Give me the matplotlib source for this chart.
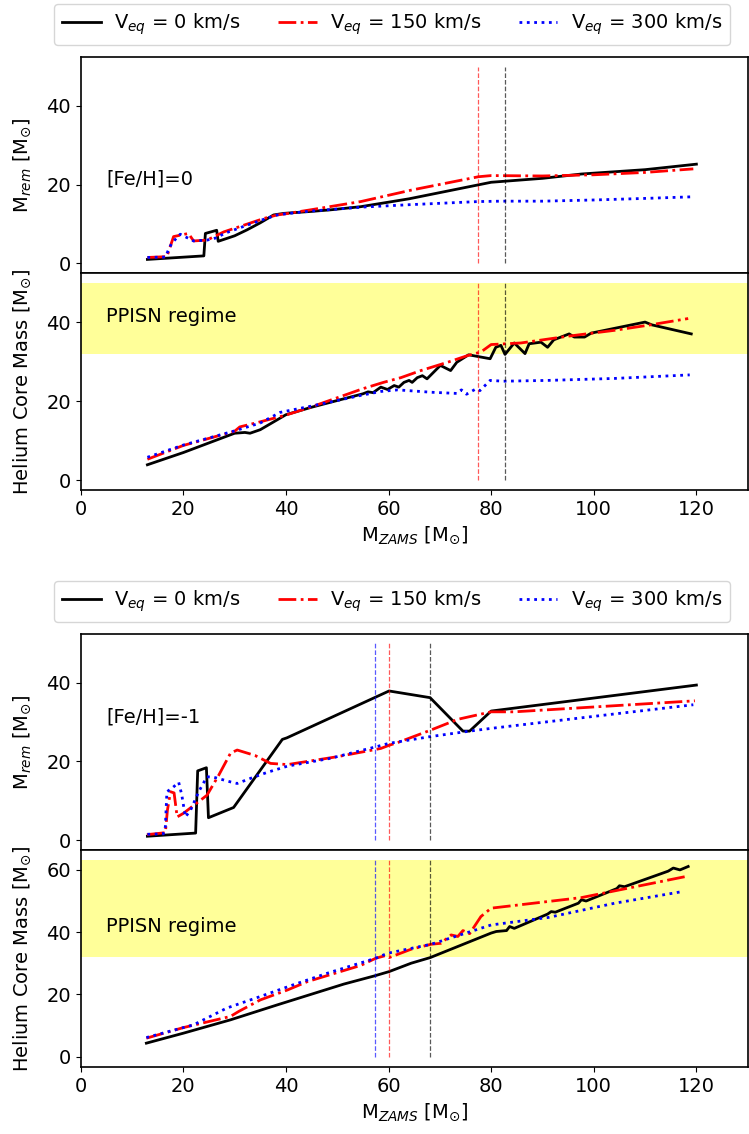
import matplotlib
matplotlib.use("Agg")
import matplotlib.pyplot as plt

# ---------------- data ----------------
# [Fe/H]=0, remnant mass
z0_rem_v0_x = [13, 24, 24.3, 26.5, 26.8, 30, 32.4, 35, 37.6, 39.6, 45, 48.7, 54.6, 64, 72, 80, 90, 97.6, 110, 120]
z0_rem_v0_y = [1.0, 1.9, 7.6, 8.4, 5.6, 7.0, 8.5, 10.3, 12.3, 12.7, 13.2, 13.6, 14.4, 16.4, 18.5, 20.6, 21.6, 22.7, 23.8, 25.2]
z0_rem_v150_x = [13, 16.8, 18.1, 21, 22, 24.6, 27.9, 31.8, 35.7, 38.3, 40, 44.8, 54.6, 64.4, 77.5, 80, 90, 100, 110, 119.4]
z0_rem_v150_y = [1.5, 1.7, 6.8, 7.6, 5.7, 5.9, 8.0, 9.7, 11.4, 12.3, 12.6, 13.6, 15.7, 18.6, 22.0, 22.3, 22.2, 22.5, 23.1, 24.0]
z0_rem_v300_x = [13, 16.5, 17.3, 17.8, 19.4, 22, 24.6, 26.5, 28, 32, 35.7, 38.3, 40, 45, 55, 64, 77.5, 82, 90, 100, 110, 119]
z0_rem_v300_y = [1.5, 1.6, 4.0, 5.2, 7.4, 5.7, 5.9, 6.5, 7.6, 9.5, 11.2, 12.3, 12.6, 13.3, 14.3, 14.9, 15.7, 15.8, 15.8, 16.1, 16.5, 16.9]

# [Fe/H]=0, helium core mass
z0_he_v0_x = [13, 20, 30, 32, 33, 35, 40, 45, 50, 55, 56, 57, 58.5, 59.8, 61.1, 62.0, 63.0, 64.0, 64.6, 65.6, 66.6, 67.5, 68.8,
              70.1, 72.1, 73.3, 75.6, 79.8, 80.9, 81.9, 82.7, 84.5, 86.6, 87.4, 89.7, 91.0, 92.2, 95.2, 96.2, 98.2, 99.5,
              110.0, 111.3, 119.0]
z0_he_v0_y = [3.9, 7.0, 11.9, 12.1, 11.9, 12.8, 16.6, 18.5, 20.2, 21.9, 22.4, 22.2, 23.6, 23.0, 24.0, 23.6, 24.8, 25.3, 24.8,
              26.0, 26.5, 25.7, 27.4, 29.1, 27.8, 29.9, 31.8, 30.8, 33.7, 34.2, 31.9, 34.8, 32.1, 34.6, 35.0, 33.7, 35.6,
              37.1, 36.3, 36.3, 37.3, 40.1, 39.4, 37.1]
z0_he_v150_x = [13, 20, 25, 30, 31, 35, 40, 45, 50, 55, 59, 62.4, 66.3, 71.5, 75.4, 78, 80, 85.8, 94.9, 104, 110.6, 118.4]
z0_he_v150_y = [5.3, 8.8, 10.6, 12.4, 13.5, 14.8, 16.5, 18.6, 20.9, 23.2, 24.8, 26.0, 27.8, 29.9, 31.6, 32.5, 34.4, 34.8,
                36.5, 38.0, 39.3, 41.0]
z0_he_v300_x = [13, 20, 30, 35, 38.9, 45, 50, 54.6, 58.5, 61.8, 68.3, 73.3, 74.2, 75.2, 77.1, 77.8, 79.8, 82.4, 91, 104, 118.7]
z0_he_v300_y = [5.8, 8.9, 12.5, 14.5, 17.2, 18.8, 20.2, 21.5, 22.5, 22.9, 22.3, 22.0, 22.9, 21.8, 23.2, 22.7, 25.3, 25.1,
                25.3, 25.8, 26.7]

# [Fe/H]=-1, remnant mass
z1_rem_v0_x = [13, 22.4, 22.8, 24.5, 24.9, 29.8, 39.3, 40.2, 60.1, 68.1, 74.5, 75.8, 80, 120]
z1_rem_v0_y = [1.0, 1.8, 17.6, 18.4, 5.7, 8.3, 25.6, 26.0, 37.9, 36.2, 27.7, 27.7, 32.8, 39.4]
z1_rem_v150_x = [12.9, 16.5, 16.9, 17.5, 18.2, 18.8, 20, 24.6, 26.9, 29.2, 30.5, 34, 37, 40.3, 50, 58.5, 60.1, 61.8,
                 68.3, 73.5, 80, 84.5, 119.7]
z1_rem_v150_y = [1.4, 1.9, 7.6, 12.3, 12.0, 5.9, 6.8, 11.4, 16.5, 22.1, 22.9, 21.5, 19.5, 19.2, 21.2, 23.3, 24.1, 24.8,
                 28.0, 30.7, 32.6, 32.6, 35.4]
z1_rem_v300_x = [13, 16.1, 16.5, 16.8, 17.8, 19.1, 19.7, 20.4, 21.4, 23, 24.6, 25.9, 29.2, 30.5, 33.1, 36.3, 40.3, 48.7,
                 57.5, 60.1, 68.1, 75.8, 80, 119.4]
z1_rem_v300_y = [1.5, 1.6, 3.4, 12.3, 13.2, 14.7, 11.5, 5.9, 7.6, 12.3, 16.1, 16.0, 14.8, 14.4, 15.7, 17.2, 18.8, 20.8,
                 23.7, 24.6, 26.3, 27.7, 28.4, 34.4]

# [Fe/H]=-1, helium core mass
z1_he_v0_x = [12.8, 20, 29.2, 38.3, 51.3, 57.2, 60.1, 64.4, 68.1, 80, 81, 83, 83.6, 84.5, 91, 91.7, 92.5, 97, 97.6, 98.5,
              104.5, 105, 106, 114.5, 115.5, 116.8, 118.4]
z1_he_v0_y = [4.3, 7.5, 11.8, 16.6, 23.3, 25.9, 27.3, 30.0, 31.8, 39.7, 40.2, 40.5, 41.8, 41.2, 45.8, 46.6, 46.4, 49.3,
              50.4, 50.0, 54.0, 54.9, 54.6, 59.6, 60.6, 60.0, 61.1]
z1_he_v150_x = [12.8, 20, 29.2, 30.8, 35, 40.3, 44.2, 54.6, 57.5, 59.3, 60.1, 64.4, 68.3, 70.2, 72.2, 73.5, 74.5, 75.8,
                78, 80, 97.6, 118]
z1_he_v150_y = [5.9, 9.3, 12.9, 14.5, 18.2, 21.4, 24.1, 29.3, 31.6, 32.4, 31.8, 34.5, 36.1, 36.4, 39.1, 38.6, 40.5, 39.5,
                45.0, 47.7, 51.1, 57.9]
z1_he_v300_x = [12.8, 22, 28.5, 35, 41.5, 48.1, 57.5, 59.8, 68.3, 80, 91.1, 104.1, 117.5]
z1_he_v300_y = [6.1, 10.2, 15.6, 19.3, 23.1, 26.8, 31.6, 33.2, 36.1, 42.3, 44.7, 49.3, 53.1]

# PPISN boundaries (M_ZAMS) and regime bands
z0_vlines = {"v150": 77.5, "v0": 82.6}
z1_vlines = {"v300": 57.3, "v150": 60.0, "v0": 68.0}
z0_band = (32, 50)
z1_band = (32, 63.3)

legend_labels = [r"V$_{eq}$ = 0 km/s", r"V$_{eq}$ = 150 km/s", r"V$_{eq}$ = 300 km/s"]
x_ticks = [0, 20, 40, 60, 80, 100, 120]
rem_ticks = [0, 20, 40]
z0_he_ticks = [0, 20, 40]
z1_he_ticks = [0, 20, 40, 60]

# ---------------- style ----------------
styles = {"v0": dict(color="k", ls="-"),
          "v150": dict(color="r", ls="-."),
          "v300": dict(color="b", ls=":")}
LW = 2.0
FS = 14

plt.rcParams["font.family"] = ["DejaVu Sans"]
plt.rcParams["xtick.labelsize"] = FS
plt.rcParams["ytick.labelsize"] = FS

W, H = 749, 1134
fig = plt.figure(figsize=(W / 100, H / 100), dpi=100)

left = 80.7 / W
width = (747.7 - 80.7) / W


def axes_px(top, bottom):
    return fig.add_axes([left, 1 - bottom / H, width, (bottom - top) / H])


def draw_group(top_px, rem_data, he_data, vlines, band, he_ylim, he_ticks, feh_text, legend_top):
    ax1 = axes_px(top_px, top_px + 216.5)
    ax2 = axes_px(top_px + 216.5, top_px + 433.3)
    keys = ["v0", "v150", "v300"]
    handles = []
    for k, (x, y) in zip(keys, rem_data):
        h, = ax1.plot(x, y, lw=LW, **styles[k])
        handles.append(h)
    for k, (x, y) in zip(keys, he_data):
        ax2.plot(x, y, lw=LW, **styles[k])
    ax2.axhspan(band[0], band[1], color="yellow", alpha=0.4, lw=0)
    for k, xv in vlines.items():
        ax1.vlines(xv, 0, 50, colors=styles[k]["color"], linestyles="--", lw=0.9, alpha=0.65)
        ax2.vlines(xv, 0, band[1], colors=styles[k]["color"], linestyles="--", lw=0.9, alpha=0.65)
    for ax in (ax1, ax2):
        ax.set_xlim(0, 130)
        for s in ax.spines.values():
            s.set_linewidth(1.2)
    ax1.set_ylim(-2.5, 52.5)
    ax2.set_ylim(*he_ylim)
    ax1.set_yticks(rem_ticks)
    ax2.set_yticks(he_ticks)
    ax2.set_xticks(x_ticks)
    ax1.tick_params(axis="x", bottom=False, labelbottom=False)
    ax1.text(5, feh_text[1], feh_text[0], fontsize=14)
    ax2.text(5, 40, "PPISN regime", fontsize=14)
    ax1.set_ylabel(r"M$_{rem}$ [M$_{\odot}$]", fontsize=FS)
    ax2.set_ylabel(r"Helium Core Mass [M$_{\odot}$]", fontsize=FS)
    ax2.set_xlabel(r"M$_{ZAMS}$ [M$_{\odot}$]", fontsize=FS, labelpad=4)
    ax1.yaxis.set_label_coords(-0.072, 0.5)
    ax2.yaxis.set_label_coords(-0.072, 0.5)
    fig.legend(handles, legend_labels, ncol=3, loc="upper left",
               bbox_to_anchor=(54 / W, 1 - legend_top / H), fontsize=14,
               borderaxespad=0, columnspacing=1.9, handletextpad=0.7)
    return ax1, ax2


draw_group(56.7,
           [(z0_rem_v0_x, z0_rem_v0_y), (z0_rem_v150_x, z0_rem_v150_y), (z0_rem_v300_x, z0_rem_v300_y)],
           [(z0_he_v0_x, z0_he_v0_y), (z0_he_v150_x, z0_he_v150_y), (z0_he_v300_x, z0_he_v300_y)],
           z0_vlines, z0_band, (-2.5, 52.5), z0_he_ticks, ("[Fe/H]=0", 20), 4)

draw_group(633.5,
           [(z1_rem_v0_x, z1_rem_v0_y), (z1_rem_v150_x, z1_rem_v150_y), (z1_rem_v300_x, z1_rem_v300_y)],
           [(z1_he_v0_x, z1_he_v0_y), (z1_he_v150_x, z1_he_v150_y), (z1_he_v300_x, z1_he_v300_y)],
           z1_vlines, z1_band, (-3.3, 66.4), z1_he_ticks, ("[Fe/H]=-1", 30), 581)

fig.savefig("out.png", dpi=100)
